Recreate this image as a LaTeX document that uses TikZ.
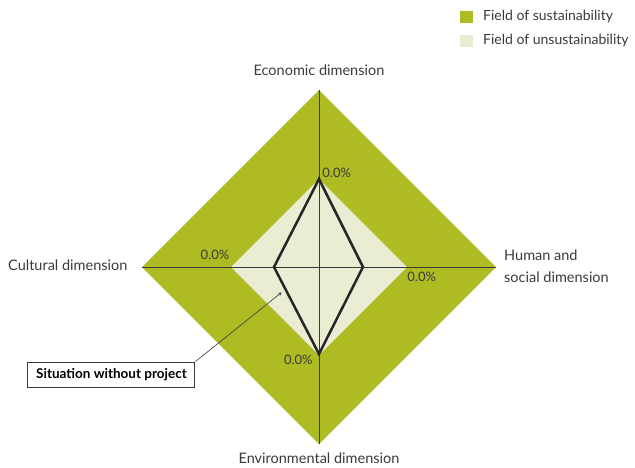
\documentclass[tikz,border=0pt]{standalone}
\usepackage{fontspec}
\setmainfont{Lato}
\usepackage{tikz}
\definecolor{sustgreen}{HTML}{AFBB22}
\definecolor{unsustgreen}{HTML}{EAEDD2}
\definecolor{axisgray}{HTML}{3A3A3A}
\tikzset{
	dimlabel/.style={font=\fontsize{14.5}{22}\selectfont, text=axisgray, inner sep=0pt},
	pctlabel/.style={font=\fontsize{13}{15}\selectfont, text=axisgray, inner sep=0pt},
	legbox/.style={minimum size=12.5pt, inner sep=0pt}
}

\begin{document}
\begin{tikzpicture}[x=1pt, y=1pt]
		\useasboundingbox (-319,-200) rectangle (316,267);
		\coordinate (O) at (0,0);
		% outer field
		\coordinate (T) at (0,177);
		\coordinate (R) at (177,0);
		\coordinate (B) at (0,-177);
		\coordinate (L) at (-177,0);
		\fill[sustgreen] (T) -- (R) -- (B) -- (L) -- cycle;
		% inner field
		\coordinate (t) at (0,88);
		\coordinate (r) at (88,0);
		\coordinate (b) at (0,-88);
		\coordinate (l) at (-88,0);
		\fill[unsustgreen] (t) -- (r) -- (b) -- (l) -- cycle;
		% axes
		\draw[axisgray, line width=0.8pt] (T) -- (B);
		\draw[axisgray, line width=0.8pt] (L) -- (R);
		% situation without project
		\coordinate (P1) at (0,88);
		\coordinate (P2) at (44,0);
		\coordinate (P3) at (0,-87);
		\coordinate (P4) at (-45,0);
		\draw[line width=2.5pt, line join=miter, black!85] (P1) -- (P2) -- (P3) -- (P4) -- cycle;
		
		\node[dimlabel] (eco) at (0,197) {Economic dimension};
		\node[dimlabel] (env) at (0,-191) {Environmental dimension};
		\node[dimlabel, anchor=west] (cul) at (-311,2) {Cultural dimension};
		\node[dimlabel, anchor=west, align=left] (hum) at (185,1) {Human and\\social dimension};
		
		\node[pctlabel] (pt) at (17.7,93.7) {0.0\%};
		\node[pctlabel] (pl) at (-104,12) {0.0\%};
		\node[pctlabel] (pr) at (102.7,-10.3) {0.0\%};
		\node[pctlabel] (pb) at (-20.7,-93) {0.0\%};
		
		\node[draw=axisgray, line width=1pt, fill=white, minimum width=167pt, minimum height=25pt, inner sep=0pt,
		font=\fontsize{13.5}{15}\selectfont\bfseries] (sit) at (-207.5,-107.5) {Situation without project};
		\coordinate (tip) at (-37.3,-25.3);
		\draw[-stealth, axisgray, line width=0.6pt] (sit.north east) -- (tip);
		
		% legend
		\node[legbox, fill=sustgreen] (leg1) at (147.5,250) {};
		\node[legbox, fill=unsustgreen] (leg2) at (147.5,226) {};
		\node[dimlabel, font=\fontsize{14}{16}\selectfont, anchor=west] (leg1t) at (164,250) {Field of sustainability};
		\node[dimlabel, font=\fontsize{14}{16}\selectfont, anchor=west] (leg2t) at (164,226) {Field of unsustainability};
		\end{tikzpicture}
\end{document}
